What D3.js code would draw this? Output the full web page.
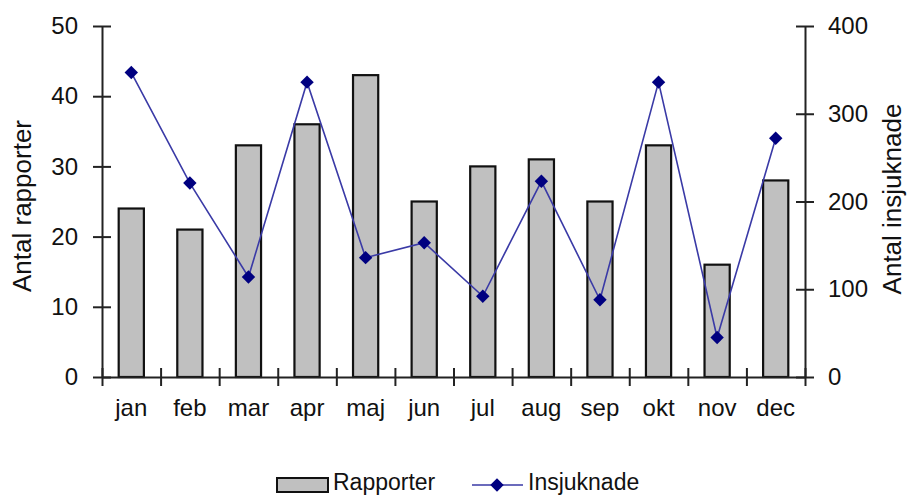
<!DOCTYPE html>
<html>
<head>
<meta charset="utf-8">
<script src="https://cdn.jsdelivr.net/npm/d3@7"></script>
<style>
  body { margin: 0; background: #fff; }
  svg text { font-family: Arial, "Liberation Sans", sans-serif; fill: #111; }
</style>
</head>
<body>
<svg id="chart"></svg>
<script>
// chart data
const months = ["jan", "feb", "mar", "apr", "maj", "jun", "jul", "aug", "sep", "okt", "nov", "dec"];
const rapporter = [24, 21, 33, 36, 43, 25, 30, 31, 25, 33, 16, 28];
const insjuknade = [347, 221, 114, 336, 136, 153, 92, 223, 88, 336, 45, 272];
const leftTicks = [0, 10, 20, 30, 40, 50];
const rightTicks = [0, 100, 200, 300, 400];

let width = 908;
let height = 495;
let plotLeft = 102, plotRight = 805, plotTop = 26, plotBottom = 377;

const svg = d3.select('#chart').attr('width', width).attr('height', height);

const xScale = d3.scaleBand().domain(months).range([plotLeft, plotRight]).padding(0);
const edgeScale = d3.scaleLinear().domain([0, months.length]).range([plotLeft, plotRight]);
const yLeft = d3.scaleLinear().domain([0, 50]).range([plotBottom, plotTop]);
const yRight = d3.scaleLinear().domain([0, 400]).range([plotBottom, plotTop]);

const barW = xScale.bandwidth() * 0.43;

// bars
svg.append('g').selectAll('rect').data(rapporter).enter().append('rect')
  .attr('x', (d, i) => xScale(months[i]) + (xScale.bandwidth() - barW) / 2)
  .attr('y', d => yLeft(d))
  .attr('width', barW)
  .attr('height', d => yLeft(0) - yLeft(d))
  .attr('fill', '#c0c0c0')
  .attr('stroke', '#111')
  .attr('stroke-width', 2.2);

// axes
const styleAxis = (g) => {
  g.select('.domain').attr('stroke', '#222').attr('stroke-width', 2);
  g.selectAll('.tick line').attr('stroke', '#222').attr('stroke-width', 2);
  g.selectAll('text').attr('font-size', 24).attr('fill', '#111')
    .style('font-family', 'Arial, "Liberation Sans", sans-serif');
};

const gl = svg.append('g').attr('transform', `translate(${plotLeft},0)`)
  .call(d3.axisLeft(yLeft).tickValues(leftTicks).tickSize(9).tickSizeOuter(0).tickPadding(15));
styleAxis(gl);
gl.selectAll('.tick line').attr('x1', 9).attr('x2', -9);

const gr = svg.append('g').attr('transform', `translate(${plotRight},0)`)
  .call(d3.axisRight(yRight).tickValues(rightTicks).tickSize(9).tickSizeOuter(0).tickPadding(14));
styleAxis(gr);
gr.selectAll('.tick line').attr('x1', -9).attr('x2', 9);

const gb = svg.append('g').attr('transform', `translate(0,${plotBottom})`)
  .call(d3.axisBottom(edgeScale).tickValues(d3.range(months.length + 1)).tickFormat('').tickSize(9).tickSizeOuter(0));
styleAxis(gb);
gb.selectAll('.tick line').attr('y1', -9).attr('y2', 9);

const gx = svg.append('g').attr('transform', `translate(0,${plotBottom})`)
  .call(d3.axisBottom(xScale).tickSize(0).tickPadding(22));
styleAxis(gx);
gx.select('.domain').remove();

// line + markers
const line = d3.line()
  .x((d, i) => xScale(months[i]) + xScale.bandwidth() / 2)
  .y(d => yRight(d));

svg.append('path').datum(insjuknade)
  .attr('d', line)
  .attr('fill', 'none')
  .attr('stroke', '#3a3aa6')
  .attr('stroke-width', 1.6);

const diamond = d3.symbol().type(d3.symbolSquare).size(90);
svg.append('g').selectAll('path').data(insjuknade).enter().append('path')
  .attr('d', diamond)
  .attr('transform', (d, i) => `translate(${xScale(months[i]) + xScale.bandwidth() / 2},${yRight(d)}) rotate(45)`)
  .attr('fill', '#000080');

// axis titles
svg.append('text')
  .attr('transform', 'translate(31,206) rotate(-90)')
  .attr('text-anchor', 'middle')
  .attr('font-size', 26)
  .text('Antal rapporter');

svg.append('text')
  .attr('transform', 'translate(901,199) rotate(-90)')
  .attr('text-anchor', 'middle')
  .attr('font-size', 26)
  .text('Antal insjuknade');

// legend
const lg = svg.append('g');
lg.append('rect').attr('x', 277).attr('y', 478).attr('width', 51).attr('height', 14)
  .attr('fill', '#c0c0c0').attr('stroke', '#111').attr('stroke-width', 2);
lg.append('text').attr('x', 333).attr('y', 490).attr('font-size', 23).text('Rapporter');
lg.append('line').attr('x1', 472).attr('x2', 523).attr('y1', 485).attr('y2', 485)
  .attr('stroke', '#3a3aa6').attr('stroke-width', 1.6);
lg.append('path').attr('d', diamond).attr('transform', 'translate(497,485) rotate(45)').attr('fill', '#000080');
lg.append('text').attr('x', 528).attr('y', 490).attr('font-size', 23).text('Insjuknade');
</script>
</body>
</html>
